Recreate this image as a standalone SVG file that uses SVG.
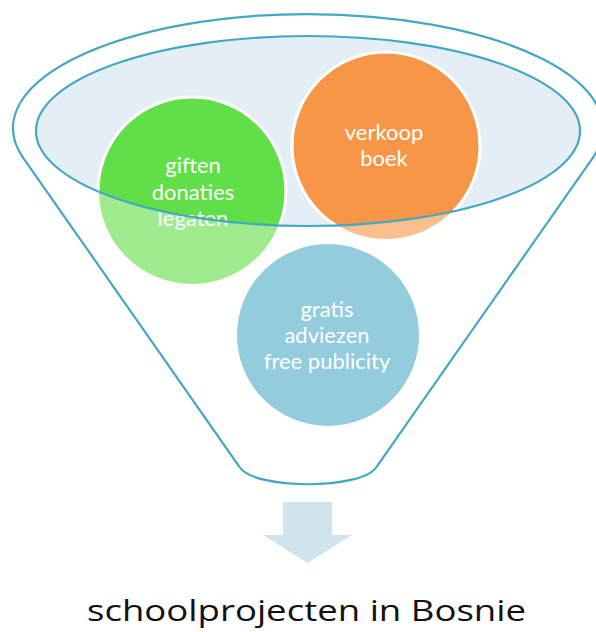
<svg xmlns="http://www.w3.org/2000/svg" width="596" height="632" viewBox="0 0 596 632">
<style>
.outline{fill:none;stroke:#46A7C3;stroke-width:2.2}
.lbl{font-family:Lato,"Liberation Sans",sans-serif;font-size:22px;fill:#ffffff;text-anchor:middle}
.ring{fill:none;stroke:#ffffff;stroke-width:3}
.title{font-family:"Open Sans","Liberation Sans",sans-serif;font-size:29px;fill:#111111;text-anchor:middle}
</style>
<defs>
<clipPath id="inner"><ellipse cx="308" cy="131" rx="272" ry="95"/></clipPath>
</defs>
<rect width="596" height="632" fill="#ffffff"/>
<g id="funnel">
<path d="M 23.2 157.8 A 295 114 0 1 1 592.8 157.8 L 376.4 467 C 362 490 254 490 239.6 467 Z" fill="#ffffff" class="outline"/>
<ellipse cx="308" cy="131" rx="272" ry="95" fill="#E3EFF4"/>
</g>
<g id="node-giften">
<circle cx="192" cy="191" r="93" fill="#A0EB8E"/>
<circle cx="192" cy="191" r="93" fill="#60DF48" clip-path="url(#inner)"/>
<circle cx="192" cy="191" r="94" class="ring" clip-path="url(#inner)"/>
<text class="lbl" x="193" y="173">giften</text>
<text class="lbl" x="193" y="200">donaties</text>
<text class="lbl" x="193" y="226">legaten</text>
</g>
<g id="node-verkoop">
<circle cx="386" cy="146" r="93" fill="#F9C08E"/>
<circle cx="386" cy="146" r="93" fill="#F79646" clip-path="url(#inner)"/>
<circle cx="386" cy="146" r="94" class="ring" clip-path="url(#inner)"/>
<text class="lbl" x="384" y="140">verkoop</text>
<text class="lbl" x="384" y="166">boek</text>
</g>
<g id="node-gratis">
<circle cx="328" cy="335" r="92" fill="#93CCDD" stroke="#ffffff" stroke-width="2"/>
<text class="lbl" x="327" y="317">gratis</text>
<text class="lbl" x="327" y="343">adviezen</text>
<text class="lbl" x="327" y="369">free publicity</text>
</g>
<g id="connectors">
<ellipse cx="308" cy="131" rx="272" ry="95" class="outline"/>
<polygon points="283,502 332,502 332,535 352,535 307.5,563 263,535 283,535" fill="#CFE4EC"/>
</g>
<g id="node-result">
<text class="title" x="306.5" y="621" textLength="439" lengthAdjust="spacingAndGlyphs">schoolprojecten  in Bosnie</text>
</g>
</svg>
